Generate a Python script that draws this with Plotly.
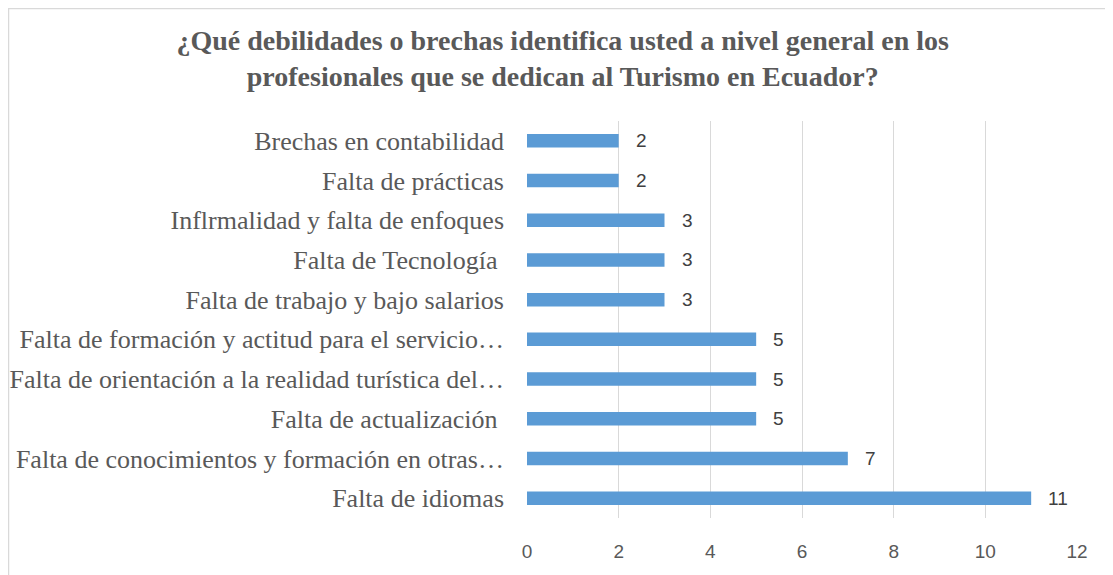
import plotly.graph_objects as go

categories = [
    "Falta de idiomas",
    "Falta de conocimientos y formación en otras…",
    "Falta de actualización ",
    "Falta de orientación a la realidad turística del…",
    "Falta de formación y actitud para el servicio…",
    "Falta de trabajo y bajo salarios",
    "Falta de Tecnología ",
    "Inflrmalidad y falta de enfoques",
    "Falta de prácticas",
    "Brechas en contabilidad",
]
values = [11, 7, 5, 5, 5, 3, 3, 3, 2, 2]
x_ticks = [0, 2, 4, 6, 8, 10, 12]
title_text = ("<b>¿Qué debilidades o brechas identifica usted a nivel general en los<br>"
              "profesionales que se dedican al Turismo en Ecuador?</b>")

fig = go.Figure()
fig.add_trace(go.Bar(
    x=values, y=categories, orientation="h",
    marker=dict(color="#5b9bd5", line=dict(width=0)),
    width=0.34,
    hoverinfo="x+y",
))

for v, c in zip(values, categories):
    fig.add_annotation(x=v, y=c, xref="x", yref="y", text=str(v),
                       showarrow=False, xanchor="left", xshift=15,
                       font=dict(family="Liberation Sans", size=19, color="#404040"))

# page has an 8px body margin; figure sized to fill the rest of the window
W, H = 1105, 567
ml, mr, mt, mb = 519, 36, 113, 57
pw, ph = W - ml - mr, H - mt - mb

def px_x(p):
    return (p - ml) / pw

def px_y(p):
    return (H - mb - p) / ph

fig.add_shape(type="rect", xref="paper", yref="paper",
              x0=px_x(0.5), x1=px_x(W + 5), y0=px_y(H + 5), y1=px_y(0.5),
              line=dict(color="#d9d9d9", width=1.5), fillcolor="rgba(0,0,0,0)", layer="below")

fig.update_layout(
    width=W, height=H,
    margin=dict(l=ml, r=mr, t=mt, b=mb),
    paper_bgcolor="white", plot_bgcolor="white",
    showlegend=False,
    title=dict(text=title_text, x=0.502, xanchor="center", xref="container",
               y=0.926, yanchor="middle", yref="container",
               font=dict(family="Liberation Serif", size=28, color="#595959")),
    xaxis=dict(range=[0, 12], tickvals=x_ticks, showgrid=True, gridcolor="#d9d9d9",
               gridwidth=1, zeroline=False, showline=False,
               tickfont=dict(family="Liberation Sans", size=19, color="#595959"),
               ticks="", ticklabelstandoff=20, fixedrange=True),
    yaxis=dict(categoryorder="array", categoryarray=categories, showgrid=False,
               showline=False, zeroline=False, ticks="",
               tickfont=dict(family="Liberation Serif", size=26, color="#595959"),
               ticklabelstandoff=22, automargin=False),
)

fig.write_html("out.html")
